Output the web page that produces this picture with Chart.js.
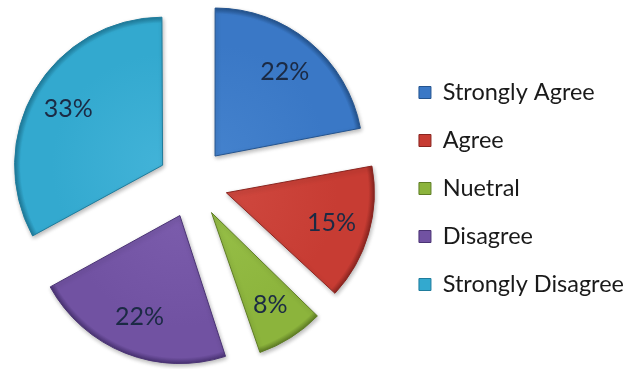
<!DOCTYPE html>
<html>
<head>
<meta charset="utf-8">
<script src="https://cdn.jsdelivr.net/npm/chart.js"></script>
<style>
  html, body { margin: 0; padding: 0; background: #ffffff; }
  #wrap { width: 625px; height: 369px; position: relative; }
</style>
</head>
<body>
<div id="wrap"><canvas id="c"></canvas></div>
<script>
// ---- data ----
const categories = ['Strongly Agree', 'Agree', 'Nuetral', 'Disagree', 'Strongly Disagree'];
const percentages = [22, 15, 8, 22, 33];

// ---- styles ----
const sliceColors = ['#3a78c6', '#c73c33', '#8cb43c', '#7152a2', '#33a9cf'];
const lightColors = ['#4482cd', '#cf483f', '#97bf48', '#7b5cac', '#42b3d8'];
const rimColors   = ['#24548f', '#8a2520', '#5f7d25', '#4a3374', '#1f7c9c'];

const RADIUS = 148;     // outer radius in px
const OFFSET = 140;     // Chart.js translates each slice by offset/4 = 35px

// keep every slice the same outer radius (Chart.js enlarges small exploded slices)
const radiusFix = {
  id: 'radiusFix',
  beforeDatasetsDraw(chart) {
    const meta = chart.getDatasetMeta(0);
    meta.data.forEach(arc => {
      const off = (arc.options.offset || 0) / 4;
      const fix = 1 - Math.sin(Math.min(Math.PI, arc.circumference));
      arc.outerRadius = RADIUS - off * fix;
    });
    const ctx = chart.ctx;
    ctx.save();
    ctx.shadowColor = 'rgba(0,0,0,0.28)';
    ctx.shadowBlur = 4;
    ctx.shadowOffsetX = 1;
    ctx.shadowOffsetY = 2;
  },
  afterDatasetsDraw(chart) {
    chart.ctx.restore();
  }
};

// percentage labels inside the slices
const sliceLabels = {
  id: 'sliceLabels',
  afterDatasetsDraw(chart) {
    const meta = chart.getDatasetMeta(0);
    const ctx = chart.ctx;
    ctx.save();
    ctx.font = '25px Lato';
    ctx.fillStyle = '#1b2a44';
    ctx.textAlign = 'center';
    ctx.textBaseline = 'middle';
    meta.data.forEach((arc, i) => {
      const mid = (arc.startAngle + arc.endAngle) / 2;
      const dist = (arc.options.offset || 0) / 4 + RADIUS * 0.74;
      ctx.fillText(percentages[i] + '%', arc.x + Math.cos(mid) * dist, arc.y + Math.sin(mid) * dist);
    });
    ctx.restore();
  }
};

// move the legend block to where the reference has it
const legendShift = {
  id: 'legendShift',
  afterLayout(chart) {
    const lg = chart.legend;
    if (lg) {
      lg.top += 7;
      lg.bottom += 7;
      lg.left += 9;
      lg.right += 9;
    }
  }
};

function sliceFill(c) {
  const i = c.dataIndex;
  const chart = c.chart;
  const area = chart.chartArea;
  if (!area || i === undefined) return sliceColors[i] || sliceColors[0];
  const cx = (area.left + area.right) / 2;
  const cy = (area.top + area.bottom) / 2;
  const g = chart.ctx.createRadialGradient(cx, cy, 0, cx, cy, RADIUS);
  g.addColorStop(0, lightColors[i]);
  g.addColorStop(0.75, sliceColors[i]);
  g.addColorStop(0.96, sliceColors[i]);
  g.addColorStop(1, rimColors[i]);
  return g;
}

function build() {
  const defaultGen = Chart.overrides.doughnut.plugins.legend.labels.generateLabels;
  new Chart(document.getElementById('c'), {
    type: 'pie',
    data: {
      labels: categories,
      datasets: [{
        data: percentages,
        backgroundColor: sliceFill,
        borderColor: rimColors,
        borderWidth: 1,
        offset: OFFSET,
        hoverOffset: 0,
        radius: RADIUS
      }]
    },
    options: {
      responsive: true,
      maintainAspectRatio: false,
      animation: false,
      layout: { padding: { left: -31, right: 0, top: -3, bottom: 3 } },
      plugins: {
        tooltip: { enabled: false },
        legend: {
          position: 'right',
          labels: {
            font: { family: 'Lato', size: 23.5 },
            color: '#1a1a1a',
            boxWidth: 12,
            boxHeight: 12,
            padding: 24.5,
            generateLabels(chart) {
              const items = defaultGen(chart);
              items.forEach((it, i) => {
                it.fillStyle = sliceColors[i];
                it.strokeStyle = rimColors[i];
                it.lineWidth = 1;
                it.fontColor = '#1a1a1a';
              });
              return items;
            }
          }
        }
      }
    },
    plugins: [radiusFix, sliceLabels, legendShift]
  });
}

if (document.fonts && document.fonts.load) {
  Promise.all([document.fonts.load('23px Lato'), document.fonts.load('25px Lato')]).then(build, build);
} else {
  build();
}
</script>
</body>
</html>
